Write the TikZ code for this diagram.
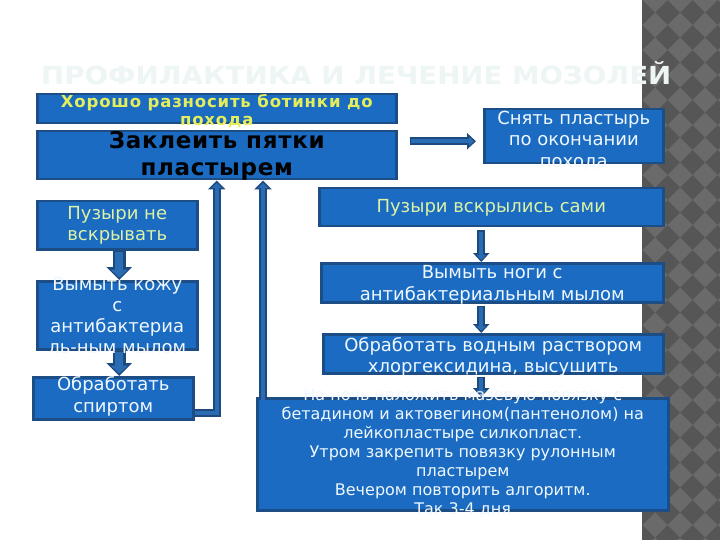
\documentclass[tikz,border=0pt]{standalone}
\usepackage{fontspec}
\setmainfont{DejaVu Sans}
\newfontfamily\yelfont{DejaVu Sans}[LetterSpace=5]
\newfontfamily\headfont{DejaVu Sans}[LetterSpace=3]
\usetikzlibrary{arrows.meta}
\definecolor{boxfill}{HTML}{1A6BC1}
\definecolor{boxline}{HTML}{1C4E85}
\definecolor{arrdk}{HTML}{1D4A7C}
\definecolor{arrmid}{HTML}{2A6CB4}
\definecolor{stripdark}{HTML}{565656}
\definecolor{striplight}{HTML}{6A6A6A}
\definecolor{titlecol}{HTML}{EEF5F5}
\definecolor{yel}{HTML}{E4EE5C}
\definecolor{paleyel}{HTML}{DCF2A6}
\definecolor{wtxt}{HTML}{F0F8FF}
\tikzset{
  box/.style={draw=boxline, line width=2.5pt, fill=boxfill, inner sep=0pt, anchor=north west},
  txt/.style={align=center, inner sep=0pt, text=wtxt, font=\fontsize{18}{21.5}\selectfont},
  pipeout/.style={arrdk, line width=8pt, line join=miter, -{Triangle[width=17pt,length=9pt]}},
  pipein/.style={arrmid, line width=4pt, line join=miter, shorten >=2.5pt, -{Triangle[width=10pt,length=5pt]}},
  bigout/.style={arrdk, line width=13pt, -{Triangle[width=25pt,length=13pt]}},
  bigin/.style={arrmid, line width=8pt, shorten >=2.5pt, -{Triangle[width=17pt,length=8pt]}},
  smout/.style={arrdk, line width=8pt, -{Triangle[width=16pt,length=9pt]}},
  smin/.style={arrmid, line width=4pt, shorten >=2pt, -{Triangle[width=9pt,length=5pt]}},
}
\begin{document}
\begin{tikzpicture}[x=1pt,y=-1pt]
\useasboundingbox (0,0) rectangle (720,540);
\fill[white] (0,0) rectangle (720,540);
% checkered strip
\begin{scope}
\clip (642,0) rectangle (720,540);
\fill[stripdark] (642,0) rectangle (720,540);
\foreach \i in {0,...,4}{
  \foreach \j in {0,...,22}{
    \fill[striplight] (630+\i*25+12.5,\j*25) -- ++(-12.5,12.5) -- ++(-12.5,-12.5) -- ++(12.5,-12.5) -- cycle;
  }
}
\end{scope}
% title
\node[anchor=base west, inner sep=0pt, text=titlecol] (title) at (41,85)
  {\resizebox{630pt}{23pt}{\bfseries ПРОФИЛАКТИКА И ЛЕЧЕНИЕ МОЗОЛЕЙ}};
% boxes
\node[box, minimum width=359pt, minimum height=29pt] (b1) at (36,93) {};
\node[box, minimum width=359pt, minimum height=48pt] (b2) at (36,130) {};
\node[box, minimum width=179pt, minimum height=54pt] (b3) at (483,108) {};
\node[box, minimum width=160pt, minimum height=48pt] (b4) at (36,200) {};
\node[box, minimum width=160pt, minimum height=68pt] (b5) at (36,280) {};
\node[box, minimum width=160pt, minimum height=42pt] (b6) at (32,376) {};
\node[box, minimum width=344pt, minimum height=38pt] (b7) at (318,187) {};
\node[box, minimum width=342pt, minimum height=39pt] (b8) at (320,262) {};
\node[box, minimum width=340pt, minimum height=39pt] (b9) at (322,333) {};
\node[box, minimum width=411pt, minimum height=112pt] (b10) at (256,397) {};
% connectors
\draw[smout] ([xshift=12pt,yshift=14pt]b2.east) -- ([xshift=-7pt,yshift=14pt]b2.east -| b3.west);
\draw[smin] ([xshift=13.5pt,yshift=14pt]b2.east) -- ([xshift=-7pt,yshift=14pt]b2.east -| b3.west);
\draw[bigout] ([xshift=2pt]b4.south) -- ([xshift=2pt]b5.north);
\draw[bigin] ([xshift=2pt,yshift=-1.5pt]b4.south) -- ([xshift=2pt]b5.north);
\draw[bigout] ([xshift=2pt]b5.south) -- ([xshift=2pt]b6.north -| b5.south);
\draw[bigin] ([xshift=2pt,yshift=-1.5pt]b5.south) -- ([xshift=2pt]b6.north -| b5.south);
\draw[smout] ([xshift=-10pt,yshift=-3pt]b7.south) -- ([xshift=-10pt]b7.south |- b8.north);
\draw[smin] ([xshift=-10pt,yshift=-4.5pt]b7.south) -- ([xshift=-10pt]b7.south |- b8.north);
\draw[smout] ([xshift=-11pt,yshift=-2pt]b8.south) -- ([xshift=-11pt]b8.south |- b9.north);
\draw[smin] ([xshift=-11pt,yshift=-3.5pt]b8.south) -- ([xshift=-11pt]b8.south |- b9.north);
\draw[smout] ([xshift=-12pt,yshift=-2pt]b9.south) -- ([xshift=-12pt]b9.south |- b10.north);
\draw[smin] ([xshift=-12pt,yshift=-3.5pt]b9.south) -- ([xshift=-12pt]b9.south |- b10.north);
\draw[pipeout] ([yshift=-15pt]b6.east) -| (b2.south);
\draw[pipein] ([yshift=-15pt]b6.east) -| (b2.south);
\draw[pipeout] ([xshift=7pt,yshift=-3pt]b10.north west) -- ([xshift=7pt]b10.north west |- b2.south);
\draw[pipein] ([xshift=7pt,yshift=-3pt]b10.north west) -- ([xshift=7pt]b10.north west |- b2.south);
% texts
\node[txt, text=yel, font=\yelfont\fontsize{16.5}{18}\selectfont\bfseries] (t1) at ([yshift=-2pt]b1.center) {Хорошо разносить ботинки до\\похода};
\node[txt, text=black, font=\headfont\fontsize{23}{27}\selectfont\bfseries] (t2) at ([yshift=-1pt]b2.center) {Заклеить пятки\\пластырем};
\node[txt] (t3) at ([yshift=-4pt]b3.center) {Снять пластырь\\по окончании\\похода};
\node[txt, text=paleyel] (t4) at (b4.center) {Пузыри не\\вскрывать};
\node[txt, font=\fontsize{18}{21}\selectfont] (t5) at (b5.center) {Вымыть кожу\\с\\антибактериа\\ль-ным мылом};
\node[txt] (t6) at ([yshift=2pt]b6.center) {Обработать\\спиртом};
\node[txt, text=paleyel] (t7) at ([yshift=-1pt]b7.center) {Пузыри вскрылись сами};
\node[txt] (t8) at ([yshift=-2pt]b8.center) {Вымыть ноги с\\антибактериальным мылом};
\node[txt] (t9) at ([yshift=-3pt]b9.center) {Обработать водным раствором\\хлоргексидина, высушить};
\node[txt, font=\fontsize{16}{19}\selectfont] (t10) at ([yshift=1pt]b10.center) {На ночь наложить мазевую повязку с\\бетадином и актовегином(пантенолом) на\\лейкопластыре силкопласт.\\Утром закрепить повязку рулонным\\пластырем\\Вечером повторить алгоритм.\\Так 3-4 дня};
\end{tikzpicture}
\end{document}
